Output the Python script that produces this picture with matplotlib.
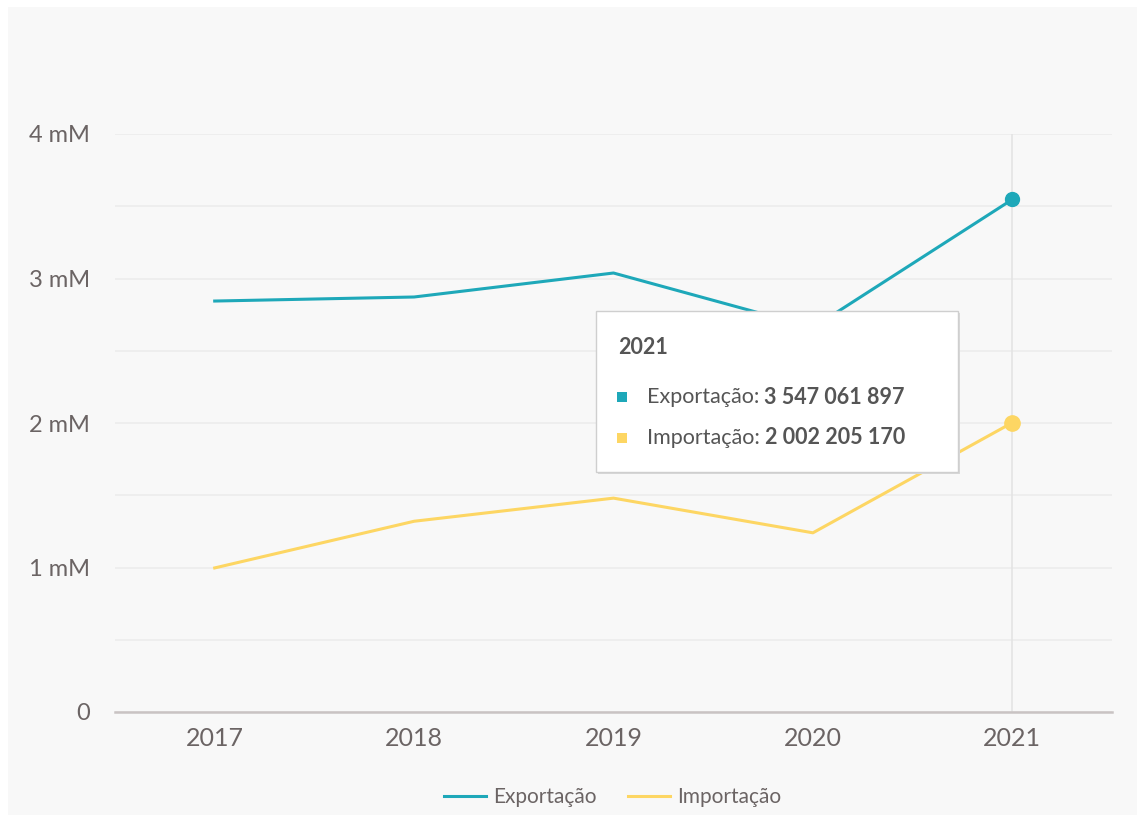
import matplotlib
matplotlib.use('Agg')
import matplotlib.pyplot as plt
from matplotlib.patches import Rectangle
from matplotlib.ticker import FuncFormatter
import numpy as np

# dados (valores em euros)
anos = [2017, 2018, 2019, 2020, 2021]
exportacao = [2.844e9, 2.872e9, 3.038e9, 2.66e9, 3547061897]
importacao = [0.997e9, 1.32e9, 1.48e9, 1.24e9, 2002205170]
y_ticks = [0, 1e9, 2e9, 3e9, 4e9]

c_exp = '#1ea8b9'
c_imp = '#fdd663'
c_txt = '#6b6464'
c_tip = '#555555'

plt.rcParams['font.family'] = ['Lato', 'DejaVu Sans']

W, H = 1137, 815
fig = plt.figure(figsize=(W / 100, H / 100), dpi=100, facecolor='white')
# painel cinzento
fig.patches.append(Rectangle((8 / W, -0.02), 1.1, 1.02 - 7 / H, transform=fig.transFigure,
                             facecolor='#f8f8f8', edgecolor='none', zorder=-10))

ax = fig.add_axes([115 / W, 103 / H, 997 / W, 578 / H])
ax.set_facecolor('none')

ax.plot(anos, exportacao, color=c_exp, lw=2.2, label='Exportação', zorder=3)
ax.plot(anos, importacao, color=c_imp, lw=2.2, label='Importação', zorder=3)
ax.plot(anos[-1], exportacao[-1], 'o', color=c_exp, ms=10, zorder=4)
ax.plot(anos[-1], importacao[-1], 'o', color=c_imp, ms=11, zorder=4)

# linha vertical do cursor
ax.axvline(anos[-1], color='#e4e4e4', lw=1.2, zorder=1)

ax.set_xlim(2016.5, 2021.5)
ax.set_ylim(0, 4e9)
ax.set_xticks(anos)
ax.set_yticks(y_ticks)
ax.set_yticks(np.arange(0.5e9, 4e9, 1e9), minor=True)
ax.yaxis.set_major_formatter(FuncFormatter(lambda v, p: '0' if v == 0 else '%d mM' % round(v / 1e9)))
ax.grid(axis='y', which='both', color='#ececec', lw=1.2, zorder=0)
ax.set_axisbelow(True)

for s in ['top', 'right', 'left']:
    ax.spines[s].set_visible(False)
ax.spines['bottom'].set_color('#c9c3c3')
ax.spines['bottom'].set_linewidth(1.8)
ax.tick_params(axis='both', which='both', length=0, colors=c_txt)
ax.tick_params(axis='y', labelsize=17, pad=18)
ax.tick_params(axis='x', labelsize=18, pad=11)

fig.legend(loc='center', bbox_to_anchor=(0.539, 1 - 797 / H), ncol=2, frameon=False,
           fontsize=15, labelcolor=c_txt, handlelength=2.0, columnspacing=1.5,
           handletextpad=0.35)

# caixa de tooltip
x0, y0, w, h = 596, 472, 362, 161
fig.patches.append(Rectangle(((x0 + 2) / W, 1 - (y0 + 2) / H), w / W, h / H,
                             transform=fig.transFigure, facecolor='#d8d8d8',
                             edgecolor='none', zorder=5))
fig.patches.append(Rectangle((x0 / W, 1 - y0 / H), w / W, h / H,
                             transform=fig.transFigure, facecolor='white',
                             edgecolor='#cfcfcf', lw=1, zorder=6))

def fmt(v):
    return '{:,}'.format(int(v)).replace(',', ' ')

fig.text(618 / W, 1 - 347 / H, str(anos[-1]), fontsize=15.5, fontweight='bold',
         color=c_tip, va='center', zorder=7)
renderer = fig.canvas.get_renderer()
for yy, cor, nome, val in [(397, c_exp, 'Exportação', exportacao[-1]),
                           (438, c_imp, 'Importação', importacao[-1])]:
    fig.patches.append(Rectangle((617 / W, 1 - (yy + 5) / H), 10 / W, 10 / H,
                                 transform=fig.transFigure, facecolor=cor,
                                 edgecolor='none', zorder=7))
    t = fig.text(647 / W, 1 - yy / H, nome + ':', fontsize=15.5, color=c_tip,
                 va='center', zorder=7)
    bb = t.get_window_extent(renderer)
    fig.text(bb.x1 / W + 5 / W, 1 - yy / H, fmt(val), fontsize=15.5, fontweight='bold',
             color=c_tip, va='center', zorder=7)

fig.savefig('out.png', dpi=100, facecolor='white')
